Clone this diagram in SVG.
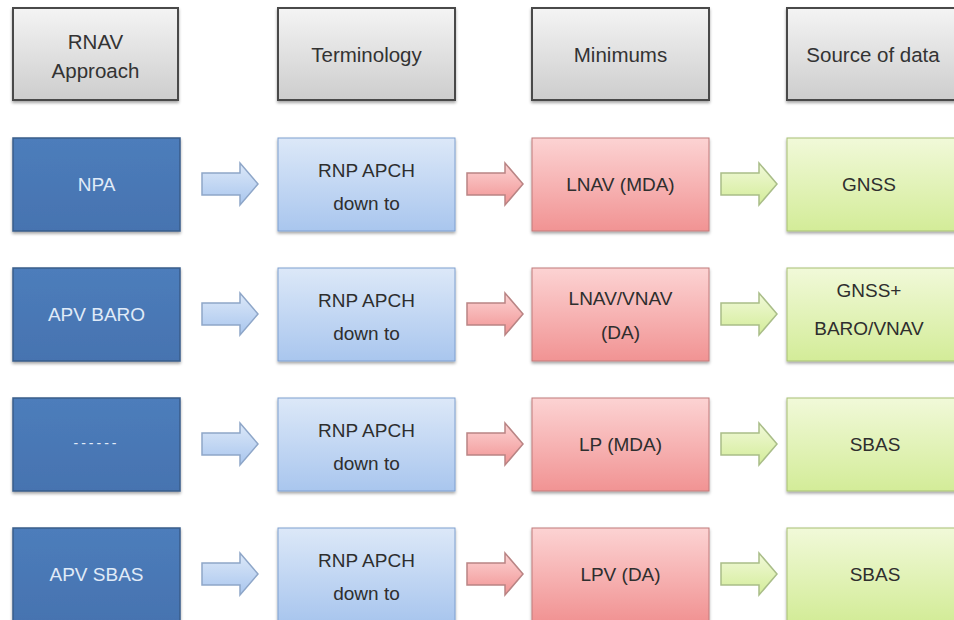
<svg xmlns="http://www.w3.org/2000/svg" width="954" height="620" viewBox="0 0 954 620">
<defs>
<linearGradient id="gHead" x1="0" y1="0" x2="0" y2="1"><stop offset="0" stop-color="#f4f4f4"/><stop offset="1" stop-color="#cdcdcd"/></linearGradient>
<linearGradient id="gBlue" x1="0" y1="0" x2="0" y2="1"><stop offset="0" stop-color="#dce8f8"/><stop offset="1" stop-color="#a9c6ee"/></linearGradient>
<linearGradient id="gRed" x1="0" y1="0" x2="0" y2="1"><stop offset="0" stop-color="#fcd3d3"/><stop offset="1" stop-color="#f19393"/></linearGradient>
<linearGradient id="gGreen" x1="0" y1="0" x2="0" y2="1"><stop offset="0" stop-color="#f1f9d9"/><stop offset="1" stop-color="#d3ec98"/></linearGradient>
<linearGradient id="gDark" x1="0" y1="0" x2="0" y2="1"><stop offset="0" stop-color="#4d7dbb"/><stop offset="1" stop-color="#4673b0"/></linearGradient>
<filter id="sh" x="-10%" y="-10%" width="120%" height="130%"><feDropShadow dx="0" dy="2" stdDeviation="1.5" flood-color="#000" flood-opacity="0.35"/></filter>
<path id="arr" d="M0,-11 H38 V-21 L56,0 L38,21 V11 H0 Z"/>
</defs>
<style>
text{font-family:"Liberation Sans","Open Sans",sans-serif;text-anchor:middle;}
.hd rect{fill:url(#gHead);stroke:#4a4a4a;stroke-width:2;filter:url(#sh);}
.hd text{font-size:20.5px;fill:#333;}
.dk rect{fill:url(#gDark);stroke:#385d8a;stroke-width:1.5;filter:url(#sh);}
.dk text{font-size:19px;fill:#e0ebf8;}
.lb rect{fill:url(#gBlue);stroke:#7f9fcf;stroke-width:1;filter:url(#sh);}
.rd rect{fill:url(#gRed);stroke:#c07a7a;stroke-width:1;filter:url(#sh);}
.gr rect{fill:url(#gGreen);stroke:#a7c074;stroke-width:1;filter:url(#sh);}
.lb text,.rd text,.gr text{font-size:19px;fill:#2e2e2e;}
.ab{fill:url(#gBlue);stroke:#8ea6c8;stroke-width:1.5;}
.ar{fill:url(#gRed);stroke:#b98484;stroke-width:1.5;}
.ag{fill:url(#gGreen);stroke:#a9bd88;stroke-width:1.5;}
</style>
<rect width="954" height="620" fill="#ffffff"/>
<g id="h1" class="hd"><rect x="13" y="8" width="165" height="92"/><text x="95.5" y="49">RNAV</text><text x="95.5" y="78">Approach</text></g>
<g id="h2" class="hd"><rect x="278" y="8" width="177" height="92"/><text x="366.5" y="62">Terminology</text></g>
<g id="h3" class="hd"><rect x="532" y="8" width="177" height="92"/><text x="620.5" y="62">Minimums</text></g>
<g id="h4" class="hd"><rect x="787" y="8" width="175" height="92"/><text x="873" y="62">Source of data</text></g>

<g id="a1" class="dk"><rect x="13" y="138" width="167" height="93"/><text x="96.5" y="191">NPA</text></g>
<g id="b1" class="lb"><rect x="278" y="138" width="177" height="93"/><text x="366.5" y="177">RNP APCH</text><text x="366.5" y="210">down to</text></g>
<g id="c1" class="rd"><rect x="532" y="138" width="177" height="93"/><text x="620.5" y="191">LNAV (MDA)</text></g>
<g id="d1" class="gr"><rect x="787" y="138" width="175" height="93"/><text x="869" y="191">GNSS</text></g>

<g id="a2" class="dk"><rect x="13" y="268" width="167" height="93"/><text x="96.5" y="321">APV BARO</text></g>
<g id="b2" class="lb"><rect x="278" y="268" width="177" height="93"/><text x="366.5" y="307">RNP APCH</text><text x="366.5" y="340">down to</text></g>
<g id="c2" class="rd"><rect x="532" y="268" width="177" height="93"/><text x="620.5" y="305">LNAV/VNAV</text><text x="620.5" y="339">(DA)</text></g>
<g id="d2" class="gr"><rect x="787" y="268" width="175" height="93"/><text x="869" y="297">GNSS+</text><text x="869" y="335">BARO/VNAV</text></g>

<g id="a3" class="dk"><rect x="13" y="398" width="167" height="93"/><text x="96.5" y="448" style="font-size:14px;letter-spacing:3px">------</text></g>
<g id="b3" class="lb"><rect x="278" y="398" width="177" height="93"/><text x="366.5" y="437">RNP APCH</text><text x="366.5" y="470">down to</text></g>
<g id="c3" class="rd"><rect x="532" y="398" width="177" height="93"/><text x="620.5" y="451">LP (MDA)</text></g>
<g id="d3" class="gr"><rect x="787" y="398" width="175" height="93"/><text x="875" y="451">SBAS</text></g>

<g id="a4" class="dk"><rect x="13" y="528" width="167" height="93"/><text x="96.5" y="581">APV SBAS</text></g>
<g id="b4" class="lb"><rect x="278" y="528" width="177" height="93"/><text x="366.5" y="567">RNP APCH</text><text x="366.5" y="600">down to</text></g>
<g id="c4" class="rd"><rect x="532" y="528" width="177" height="93"/><text x="620.5" y="581">LPV (DA)</text></g>
<g id="d4" class="gr"><rect x="787" y="528" width="175" height="93"/><text x="875" y="581">SBAS</text></g>

<g id="connectors">
<use href="#arr" class="ab" x="202" y="184"/>
<use href="#arr" class="ar" x="467" y="184"/>
<use href="#arr" class="ag" x="721" y="184"/>
<use href="#arr" class="ab" x="202" y="314"/>
<use href="#arr" class="ar" x="467" y="314"/>
<use href="#arr" class="ag" x="721" y="314"/>
<use href="#arr" class="ab" x="202" y="444"/>
<use href="#arr" class="ar" x="467" y="444"/>
<use href="#arr" class="ag" x="721" y="444"/>
<use href="#arr" class="ab" x="202" y="574"/>
<use href="#arr" class="ar" x="467" y="574"/>
<use href="#arr" class="ag" x="721" y="574"/>
</g>
</svg>
